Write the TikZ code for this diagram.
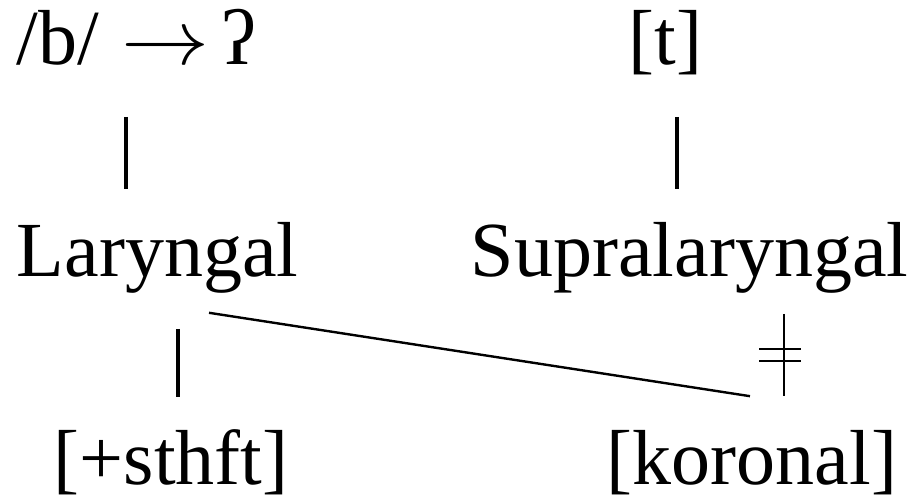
\documentclass[tikz,border=0pt]{standalone}
\usepackage{fix-cm}
\usepackage{fontspec}
\setmainfont{Liberation Serif}
\usetikzlibrary{calc}
\definecolor{cInk}{HTML}{000000}

\begin{document}
\begin{tikzpicture}[
  x=0.25pt, y=-0.25pt,
  font=\fontsize{19.5}{23}\selectfont,
  line cap=butt,
  feat/.style={inner sep=0pt, anchor=base west, text=cInk,
    text height=13.25pt, text depth=4.25pt},
  stem/.style={draw=cInk, line width=0.9pt, shorten <=8.5pt, shorten >=8.5pt},
  delink/.style={draw=cInk, line width=0.7pt, shorten <=4.75pt, shorten >=8.75pt},
  spread/.style={draw=cInk, line width=0.6pt},
  bar/.style={draw=cInk, line width=0.55pt},
]
\useasboundingbox (0,0) rectangle (913,499);

% ---- Tiers (top to bottom) ----
\node[feat] (seg)   at (16,65)
  {/b/\hspace{5.5pt}\resizebox{22pt}{\height}{$\rightarrow$}\hspace{3pt}ʔ};
\node[feat] (tee)   at (628,65)  {[t]};
\node[feat] (lar)   at (16,277)  {Laryngal};
\node[feat] (supra) at (470,277) {Supralaryngal};
\node[feat] (voice) at (53,485)  {[+sthft]};
\node[feat] (kor)   at (606,485) {[koronal]};

% ---- Columns of the association lines ----
\coordinate (xSeg)   at (126,0);
\coordinate (xTee)   at (677,0);
\coordinate (xLar)   at (178,0);
\coordinate (xSupra) at (784,0);
\coordinate (xDiagA) at (209,0);
\coordinate (xDiagB) at (750,0);

% ---- Association lines ----
\draw[stem] (seg.south -| xSeg) -- (lar.north -| xSeg);
\draw[stem] (tee.south -| xTee) -- (supra.north -| xTee);
\draw[stem] (lar.south -| xLar) -- (voice.north -| xLar);

% delinked line, with its double bar
\draw[delink] (supra.south -| xSupra) -- (kor.north -| xSupra);
\draw[bar] ($(supra.south -| xSupra)+(-25,54)$) -- ++(42,0);
\draw[bar] ($(supra.south -| xSupra)+(-25,66)$) -- ++(42,0);

% spreading line
\draw[spread] ($(lar.south -| xDiagA)+(0,18)$) -- ($(kor.north -| xDiagB)+(0,-35)$);

\end{tikzpicture}
\end{document}
